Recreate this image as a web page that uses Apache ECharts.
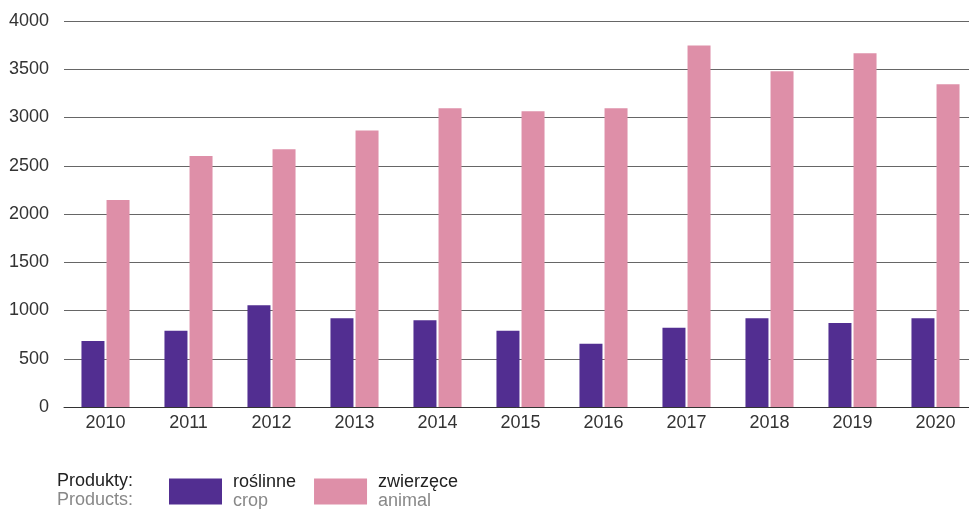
<!DOCTYPE html>
<html>
<head>
<meta charset="utf-8">
<script src="https://cdn.jsdelivr.net/npm/echarts@6/dist/echarts.min.js"></script>
<style>
  html, body { margin: 0; padding: 0; background: #fff; }
  #chart { width: 969px; height: 509px; }
</style>
</head>
<body>
<div id="chart"></div>
<script>
const years = ['2010', '2011', '2012', '2013', '2014', '2015', '2016', '2017', '2018', '2019', '2020'];
const crop = [685, 790, 1055, 920, 900, 790, 655, 820, 920, 870, 920];
const animal = [2145, 2600, 2670, 2865, 3095, 3065, 3095, 3745, 3480, 3665, 3345];
const seriesNames = ['roślinne', 'zwierzęce'];
const seriesNamesEn = ['crop', 'animal'];
const colors = ['#522e91', '#de8fa8'];

const font = 'Liberation Sans, Arial, sans-serif';
const chart = echarts.init(document.getElementById('chart'));

chart.setOption({
  animation: false,
  textStyle: { fontFamily: font },
  grid: { left: 64, top: 21, width: 913, bottom: 102, outerBoundsMode: 'none' },
  xAxis: {
    type: 'category',
    data: years,
    axisTick: { show: false },
    axisLine: { lineStyle: { color: '#333', width: 1 } },
    axisLabel: { color: '#333', fontSize: 18, margin: 7 }
  },
  yAxis: {
    type: 'value',
    min: 0,
    max: 4000,
    interval: 500,
    axisLabel: { color: '#333', fontSize: 18, margin: 15, formatter: v => String(v) },
    splitLine: { lineStyle: { color: '#666', width: 1 } }
  },
  legend: {
    left: 169,
    top: 473,
    padding: 0,
    itemWidth: 53,
    itemHeight: 26,
    itemGap: 18,
    icon: 'rect',
    selectedMode: false,
    data: seriesNames,
    formatter: function (name) {
      const i = seriesNames.indexOf(name);
      return '{a|' + name + '}\n{b|' + seriesNamesEn[i] + '}';
    },
    textStyle: {
      rich: {
        a: { fontSize: 18, color: '#222', lineHeight: 19, padding: [0, 0, 0, 6], fontFamily: font },
        b: { fontSize: 18, color: '#888', lineHeight: 19, padding: [0, 0, 0, 6], fontFamily: font }
      }
    }
  },
  graphic: [{
    type: 'text',
    left: 57,
    top: 472,
    style: {
      text: '{a|Produkty:}\n{b|Products:}',
      rich: {
        a: { fontSize: 18, fill: '#222', lineHeight: 19, fontFamily: font },
        b: { fontSize: 18, fill: '#888', lineHeight: 19, fontFamily: font }
      }
    }
  }],
  series: [
    {
      name: seriesNames[0],
      type: 'bar',
      data: crop,
      barWidth: 23,
      barGap: '9%',
      itemStyle: { color: colors[0] }
    },
    {
      name: seriesNames[1],
      type: 'bar',
      data: animal,
      barWidth: 23,
      itemStyle: { color: colors[1] }
    }
  ]
});
</script>
</body>
</html>
